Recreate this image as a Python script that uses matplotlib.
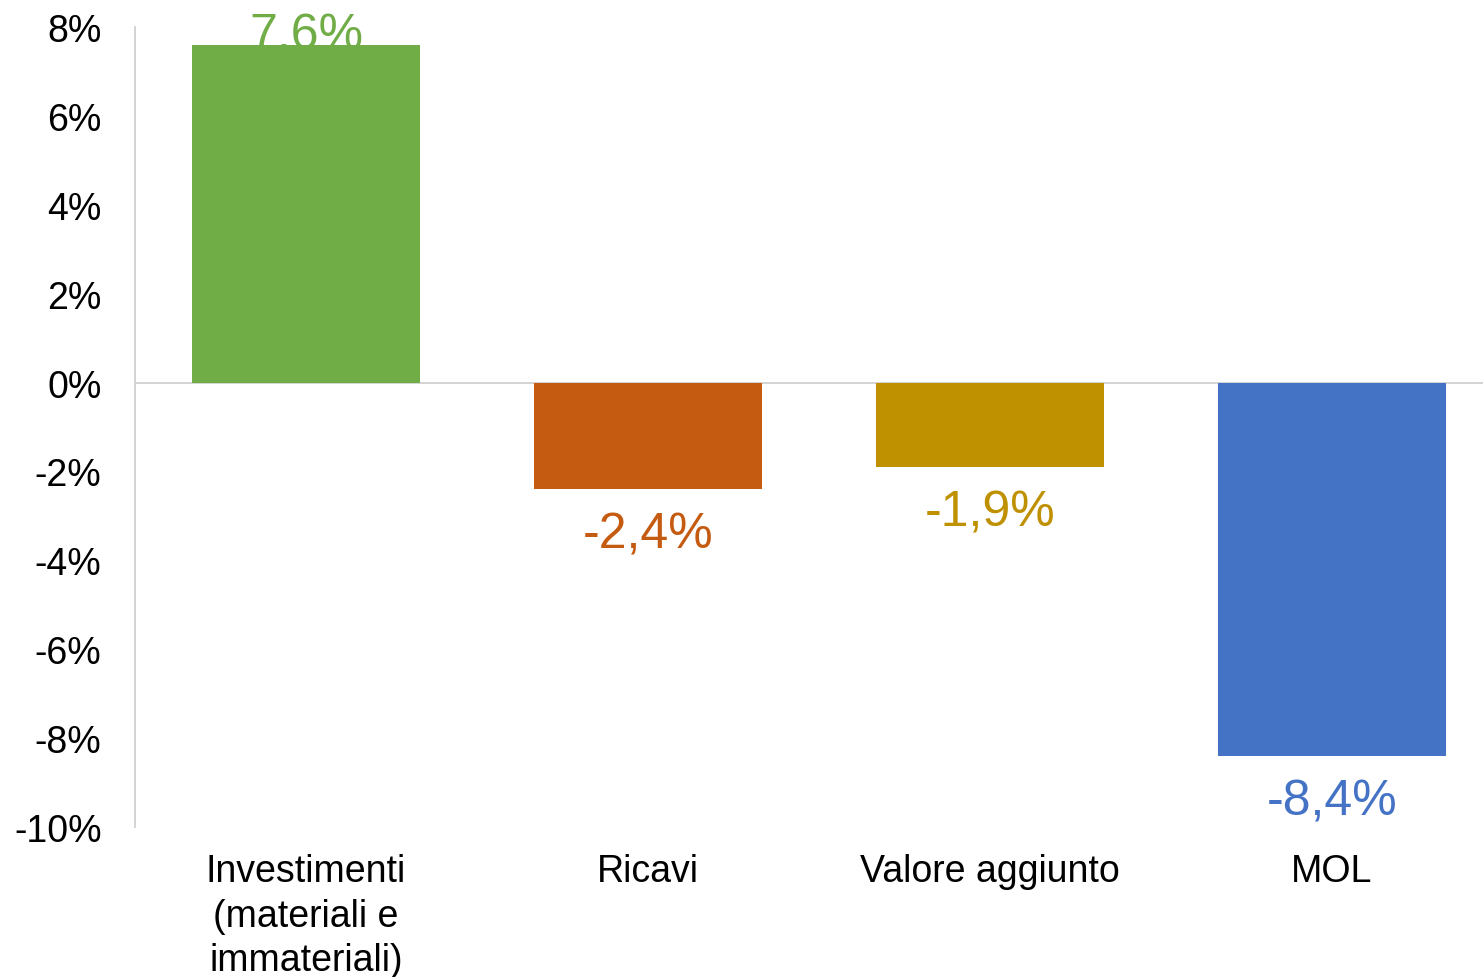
import numpy as np
import matplotlib.pyplot as plt

plt.rcParams['font.family'] = ['Liberation Sans', 'DejaVu Sans']

categories = ['Investimenti\n(materiali e\nimmateriali)', 'Ricavi', 'Valore aggiunto', 'MOL']
values = [7.6, -2.4, -1.9, -8.4]
labels = ['7,6%', '-2,4%', '-1,9%', '-8,4%']
colors = ['#70AD47', '#C55A11', '#BF9000', '#4472C4']
yticks = [8, 6, 4, 2, 0, -2, -4, -6, -8, -10]

fig = plt.figure(figsize=(14.83, 9.78), dpi=100)
ax = fig.add_axes([0.091, 0.1534, 0.9225, 0.818])

x = np.arange(len(categories))
ax.bar(x, values, width=0.667, color=colors, zorder=2)

ax.set_xlim(-0.5, len(categories) - 0.5)
ax.set_ylim(-10, 8)
ax.set_yticks(yticks)
ax.set_yticklabels([f'{t}%' for t in yticks], fontsize=27)
ax.set_xticks(x)
ax.set_xticklabels(categories, fontsize=27, linespacing=1.3, va='top')
ax.tick_params(axis='both', length=0)
ax.tick_params(axis='y', pad=24)
ax.tick_params(axis='x', pad=19)

for s in ['top', 'right', 'bottom']:
    ax.spines[s].set_visible(False)
ax.spines['left'].set_color('#D0D0D0')
ax.spines['left'].set_linewidth(1.3)
ax.axhline(0, color='#D0D0D0', lw=1.3, zorder=1)

for xi, v, lab, c in zip(x, values, labels, colors):
    if v >= 0:
        ax.text(xi, v - 0.08, lab, ha='center', va='baseline', fontsize=36, color=c, zorder=3)
    else:
        ax.text(xi, v - 0.5, lab, ha='center', va='top', fontsize=36, color=c, zorder=3)

fig.savefig('out.png', dpi=100)
